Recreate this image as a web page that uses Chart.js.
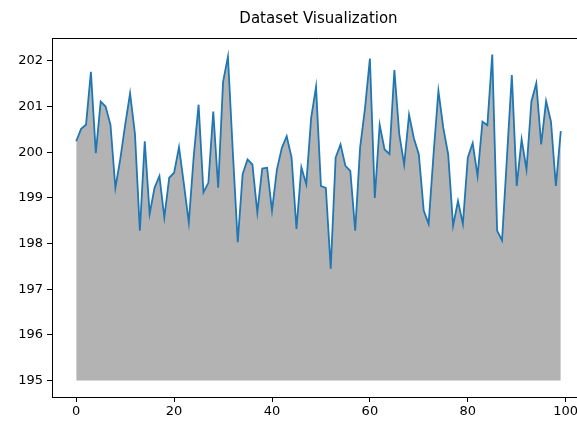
<!DOCTYPE html>
<html>
<head>
<meta charset="utf-8">
<title>Dataset Visualization</title>
<script src="https://cdn.jsdelivr.net/npm/chart.js@4/dist/chart.umd.min.js"></script>
<style>
    html, body { margin: 0; padding: 0; background: #fff; overflow: hidden; }
    #wrap { width: 600px; height: 423px; }
</style>
</head>
<body>
<div id="wrap"><canvas id="dataset_chart" width="600" height="423"></canvas></div>
<script>
// values, index 0..99
const yValues = [
    200.24, 200.51, 200.60, 201.76, 199.98, 201.11, 201.00, 200.60, 199.22, 199.85,
    200.60, 201.29, 200.40, 198.28, 200.24, 198.65, 199.22, 199.48, 198.57, 199.44,
    199.55, 200.11, 199.30, 198.46, 199.90, 201.04, 199.12, 199.33, 200.89, 199.22,
    201.54, 202.09, 200.00, 198.03, 199.52, 199.84, 199.73, 198.68, 199.64, 199.66,
    198.72, 199.62, 200.09, 200.35, 199.88, 198.32, 199.67, 199.30, 200.75, 201.43,
    199.26, 199.22, 197.45, 199.88, 200.17, 199.70, 199.59, 198.28, 200.10, 200.96,
    202.05, 199.00, 200.60, 200.06, 199.96, 201.80, 200.40, 199.73, 200.82, 200.30,
    199.95, 198.72, 198.43, 199.95, 201.34, 200.53, 199.95, 198.39, 198.93, 198.43,
    199.88, 200.20, 199.48, 200.67, 200.59, 202.14, 198.28, 198.07, 199.88, 201.69,
    199.26, 200.28, 199.62, 201.11, 201.51, 200.17, 201.12, 200.67, 199.26, 200.46
];
const fillBase = 195;
const xTicks = [0, 20, 40, 60, 80, 100];
const yTicks = [195, 196, 197, 198, 199, 200, 201, 202];

const tickFont = { family: 'DejaVu Sans', size: 13 };

// matplotlib-like frame: title centred over the axes + top/right spines
const framePlugin = {
    id: 'frame',
    afterDraw(chart) {
        const { ctx, chartArea: a } = chart;
        ctx.save();
        ctx.strokeStyle = '#000';
        ctx.lineWidth = 1;
        ctx.beginPath();
        ctx.moveTo(a.left, a.top + 0.5);
        ctx.lineTo(a.right, a.top + 0.5);
        ctx.moveTo(a.right + 0.5, a.top);
        ctx.lineTo(a.right + 0.5, a.bottom);
        ctx.stroke();

        ctx.fillStyle = '#000';
        ctx.font = '15px "DejaVu Sans"';
        ctx.textAlign = 'center';
        ctx.textBaseline = 'middle';
        ctx.fillText('Dataset Visualization', (a.left + a.right) / 2, 19);
        ctx.restore();
    }
};

new Chart(document.getElementById('dataset_chart'), {
    type: 'line',
    data: {
        datasets: [{
            data: yValues.map((v, i) => ({ x: i, y: v })),
            borderColor: '#1f77b4',
            borderWidth: 1.8,
            backgroundColor: 'rgba(128, 128, 128, 0.6)',
            fill: { value: fillBase },
            pointRadius: 0,
            tension: 0
        }]
    },
    options: {
        responsive: false,
        animation: false,
        layout: { padding: { top: 38, right: 15, left: 0, bottom: 0 } },
        plugins: {
            legend: { display: false },
            tooltip: { enabled: false },
            title: { display: false }
        },
        scales: {
            x: {
                type: 'linear',
                min: -4.95,
                max: 103.95,
                afterBuildTicks: s => { s.ticks = xTicks.map(v => ({ value: v })); },
                afterFit: s => { s.height = 26; },
                grid: { drawOnChartArea: false, tickLength: 5, tickColor: '#000' },
                border: { color: '#000', width: 1 },
                ticks: { color: '#000', font: tickFont, padding: 2, maxRotation: 0, autoSkip: false }
            },
            y: {
                min: 194.64,
                max: 202.5,
                afterBuildTicks: s => { s.ticks = yTicks.map(v => ({ value: v })); },
                afterFit: s => { s.width = 52; },
                grid: { drawOnChartArea: false, tickLength: 5, tickColor: '#000' },
                border: { color: '#000', width: 1 },
                ticks: { color: '#000', font: tickFont, padding: 4, autoSkip: false }
            }
        }
    },
    plugins: [framePlugin]
});
</script>
</body>
</html>
